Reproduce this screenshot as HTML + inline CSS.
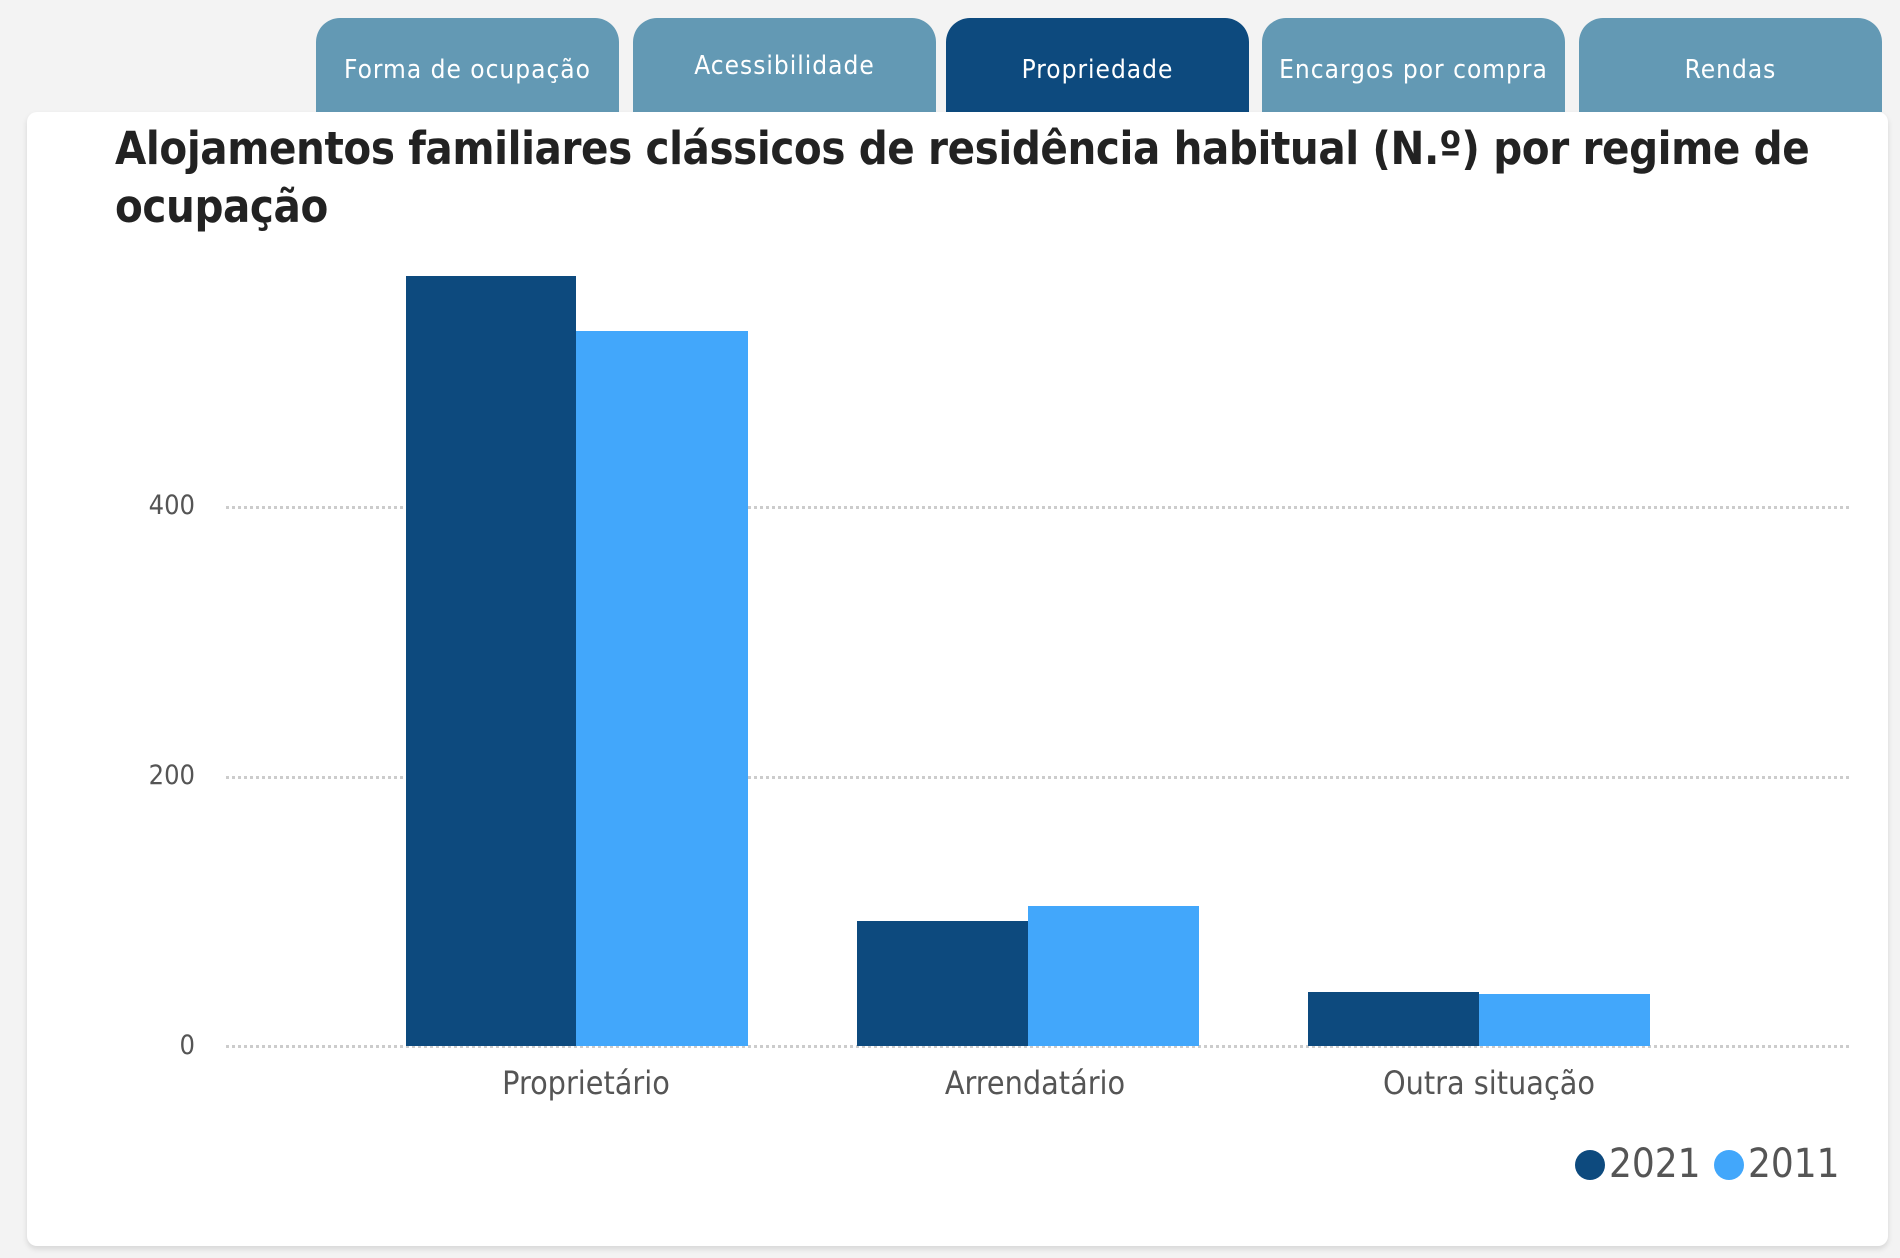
<!DOCTYPE html>
<html><head><meta charset="utf-8"><style>
body{margin:0;width:1900px;height:1258px;background:#f3f3f3;position:relative;overflow:hidden;font-family:"DejaVu Sans Condensed","Liberation Sans",sans-serif}
.tab{position:absolute;top:18px;height:94px;width:303px;background:#6399b4;border-radius:24px 24px 0 0;color:#fff;font-size:26px;text-align:center;line-height:104px;letter-spacing:1px}
.card{position:absolute;left:27px;top:112px;width:1861px;height:1134px;background:#fff;border-radius:10px;box-shadow:0 3px 6px rgba(0,0,0,.12)}
.t{position:absolute;left:115px;top:120px;font-size:45px;letter-spacing:-0.4px;line-height:58px;color:#222;font-weight:bold;width:1780px;white-space:nowrap}
.yl{position:absolute;width:80px;text-align:right;left:115px;font-size:27px;color:#555}
.g{position:absolute;left:226px;width:1623px;border-top:3px dotted #ccc}
.b{position:absolute}
.cl{position:absolute;width:300px;text-align:center;font-size:32px;color:#555;top:1064px}
.dot{position:absolute;width:30px;height:30px;border-radius:50%;top:1150px}
.lg{position:absolute;top:1141px;font-size:40px;color:#555}
</style></head><body>
<div class="tab" style="left:316px">Forma de ocupação</div>
<div class="tab" style="left:633px;line-height:96px">Acessibilidade</div>
<div class="tab" style="left:946px;background:#0d4a7e">Propriedade</div>
<div class="tab" style="left:1262px">Encargos por compra</div>
<div class="tab" style="left:1579px">Rendas</div>
<div class="card"></div>
<div class="t">Alojamentos familiares clássicos de residência habitual (N.º) por regime de<br>ocupação</div>
<div class="g" style="top:506px"></div>
<div class="g" style="top:776px"></div>
<div class="g" style="top:1045px"></div>
<div class="yl" style="top:490px">400</div>
<div class="yl" style="top:760px">200</div>
<div class="yl" style="top:1030px">0</div>
<div class="b" style="left:406px;width:170px;top:276px;height:770px;background:#0d4a7e"></div>
<div class="b" style="left:576px;width:172px;top:331px;height:715px;background:#42a7fb"></div>
<div class="b" style="left:857px;width:171px;top:921px;height:125px;background:#0d4a7e"></div>
<div class="b" style="left:1028px;width:171px;top:906px;height:140px;background:#42a7fb"></div>
<div class="b" style="left:1308px;width:171px;top:992px;height:54px;background:#0d4a7e"></div>
<div class="b" style="left:1479px;width:171px;top:994px;height:52px;background:#42a7fb"></div>
<div class="cl" style="left:436px">Proprietário</div>
<div class="cl" style="left:885px">Arrendatário</div>
<div class="cl" style="left:1339px">Outra situação</div>
<div class="dot" style="left:1575px;background:#0d4a7e"></div>
<div class="lg" style="left:1609px">2021</div>
<div class="dot" style="left:1714px;background:#42a7fb"></div>
<div class="lg" style="left:1748px">2011</div>
</body></html>
